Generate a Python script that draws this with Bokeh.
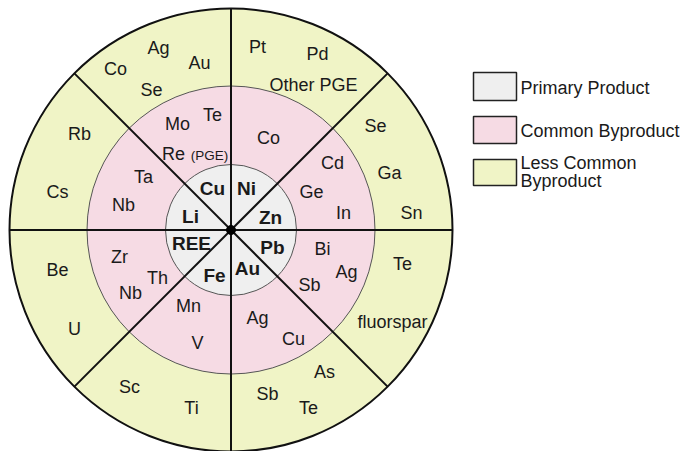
import numpy as np
from bokeh.plotting import figure
from bokeh.models import Range1d, ColumnDataSource
from bokeh.core.properties import value
from bokeh.embed import file_html
from bokeh.resources import INLINE

# ---------------- data ----------------
ring_names = ["Less Common Byproduct", "Common Byproduct", "Primary Product"]
ring_colors = ["#f0f4c6", "#f6dbe4", "#efefef"]
legend_labels = ["Primary Product", "Common Byproduct", "Less Common\nByproduct"]
legend_colors = ["#efefef", "#f6dbe4", "#f0f4c6"]

sector_angles = [0, 45, 90, 135]  # dividing lines (degrees)

primary = ["Cu", "Ni", "Zn", "Pb", "Au", "Fe", "REE", "Li"]
common = ["Mo", "Te", "Re", "Co", "Cd", "Ge", "In", "Bi", "Ag", "Sb",
          "Ag", "Cu", "Mn", "V", "Zr", "Th", "Nb", "Ta", "Nb"]
less_common = ["Ag", "Co", "Au", "Se", "Pt", "Pd", "Other PGE", "Se", "Ga", "Sn",
               "Te", "fluorspar", "As", "Sb", "Te", "Sc", "Ti", "Be", "U", "Rb", "Cs"]
small_note = ["(PGE)"]

# ---------------- layout (pixel positions in the drawing) ----------------
CX, CY = 230.5, 229.5
R_OUT, R_MID, R_IN = 221.5, 144, 65.5

primary_pos = [(212, 188), (246, 188), (270, 217), (272, 247),
               (247, 268), (214, 275), (191, 243), (190, 216)]
common_pos = [(177, 123), (212, 114), (173, 153), (268, 137), (332, 162),
              (311, 191), (343, 212), (322, 248), (346, 271), (309, 284),
              (257, 317), (293, 338), (188, 305), (197, 342), (119, 256),
              (157, 277), (130, 292), (143, 176), (123, 204)]
less_pos = [(158, 47), (115, 68), (199, 62), (151, 89), (257, 46), (317, 53),
            (313, 84), (375, 125), (389, 172), (411, 212), (402, 263),
            (392, 321), (324, 371), (267, 393), (308, 407), (129, 386),
            (191, 407), (57, 269), (74, 328), (79, 133), (57, 191)]
note_pos = [(209, 155)]

W, H = 682, 451
p = figure(width=W, height=H, output_backend="svg", toolbar_location=None,
           x_range=Range1d(0, W), y_range=Range1d(H, 0),
           x_axis_location=None, y_axis_location=None, min_border=0,
           outline_line_color=None, background_fill_color="white")
p.grid.visible = False

FONT = value("Liberation Sans")
TXT = "#1a1a1a"

# rings
p.circle(x=[CX], y=[CY], radius=R_OUT, fill_color=ring_colors[0],
         line_color="#111111", line_width=2)
p.circle(x=[CX], y=[CY], radius=R_MID, fill_color=ring_colors[1],
         line_color="#555555", line_width=1)
p.circle(x=[CX], y=[CY], radius=R_IN, fill_color=ring_colors[2],
         line_color="#555555", line_width=1)

# dividing lines
a = np.deg2rad(np.array(sector_angles, dtype=float))
p.segment(x0=CX - R_OUT * np.cos(a), y0=CY + R_OUT * np.sin(a),
          x1=CX + R_OUT * np.cos(a), y1=CY - R_OUT * np.sin(a),
          line_color="#111111", line_width=2)
p.circle(x=[CX], y=[CY], radius=4.5, fill_color="black", line_color="black")


def labels(names, pos, size, style="normal"):
    src = ColumnDataSource(dict(x=[q[0] for q in pos], y=[q[1] for q in pos], t=names))
    p.text(x="x", y="y", text="t", source=src, text_align="center",
           text_baseline="middle", text_font=FONT, text_font_size=size,
           text_font_style=style, text_color=TXT)


labels(less_common, less_pos, "18px")
labels(common, common_pos, "18px")
labels(small_note, note_pos, "13.5px")
labels(primary, primary_pos, "19px", "bold")

# legend
box_left, box_right = 473, 516
box_tops = [72, 116, 159]
box_bottoms = [100, 143, 185]
p.quad(left=[box_left] * 3, right=[box_right] * 3, top=box_tops, bottom=box_bottoms,
       fill_color=legend_colors, line_color="#222222", line_width=1.5)
leg_x = [520, 520, 520, 520]
leg_y = [87, 130, 162, 180]
leg_t = [legend_labels[0], legend_labels[1]] + legend_labels[2].split("\n")
src = ColumnDataSource(dict(x=leg_x, y=leg_y, t=leg_t))
p.text(x="x", y="y", text="t", source=src, text_align="left", text_baseline="middle",
       text_font=FONT, text_font_size="18px", text_color=TXT)

open("out.html", "w").write(file_html(p, INLINE))
